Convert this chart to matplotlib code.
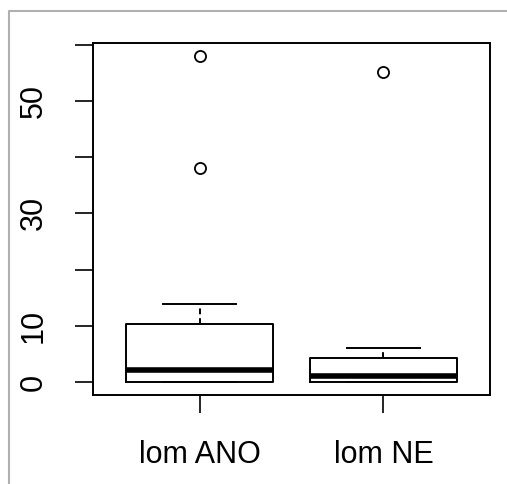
#!/usr/bin/env python3
"""R-style boxplot: lom ANO vs lom NE."""

import matplotlib

matplotlib.use("Agg")
import matplotlib.pyplot as plt  # noqa: E402
from matplotlib.lines import Line2D  # noqa: E402

plt.rcParams["font.family"] = ["Liberation Sans", "DejaVu Sans"]

# group summaries
groups = ["lom ANO", "lom NE"]
lower_whisker = [0.0, 0.0]
lower_hinge = [0.0, 0.0]
medians = [2.1, 1.1]
upper_hinge = [10.4, 4.2]
upper_whisker = [13.8, 6.0]
outliers = [[38.0, 58.0], [55.2]]

y_ticks = [0, 10, 20, 30, 40, 50, 60]
y_tick_labels = ["0", "10", "", "30", "", "50", ""]


def main() -> int:
    fig = plt.figure(figsize=(5.07, 4.84), dpi=100)
    ax = fig.add_axes([0.1834, 0.1829, 0.9665 - 0.1834, 0.9112 - 0.1829])

    stats = []
    for i, name in enumerate(groups):
        stats.append({
            "label": name,
            "whislo": lower_whisker[i],
            "q1": lower_hinge[i],
            "med": medians[i],
            "q3": upper_hinge[i],
            "whishi": upper_whisker[i],
            "fliers": outliers[i],
        })

    ax.bxp(
        stats,
        positions=[1, 2],
        widths=0.8,
        capwidths=0.4,
        showfliers=True,
        boxprops=dict(color="black", linewidth=1.4),
        whiskerprops=dict(color="black", linewidth=1.4, linestyle=(0, (3, 2))),
        capprops=dict(color="black", linewidth=1.4),
        medianprops=dict(color="black", linewidth=4.0, solid_capstyle="butt"),
        flierprops=dict(marker="o", markerfacecolor="none", markeredgecolor="black",
                        markersize=8, markeredgewidth=1.3),
    )

    ax.set_xlim(0.42, 2.58)
    ax.set_ylim(-2.4, 60.3)
    ax.set_yticks(y_ticks)
    ax.set_yticklabels(y_tick_labels, rotation=90, va="center")
    ax.set_xticks([1, 2])
    ax.set_xticklabels(groups)

    for side in ax.spines.values():
        side.set_linewidth(1.4)
        side.set_color("black")
    ax.tick_params(axis="both", length=13, width=1.2, color="black",
                   labelsize=22, pad=19, labelcolor="black")

    # thin grey frame of the original screenshot
    fig.add_artist(Line2D([9 / 507, 9 / 507, 1.0], [0.0, 1 - 11 / 484, 1 - 11 / 484],
                          transform=fig.transFigure, color="#b0b0b0", linewidth=1.5))

    fig.savefig("out.png", dpi=100)
    plt.close(fig)
    return 0


if __name__ == "__main__":
    raise SystemExit(main())
